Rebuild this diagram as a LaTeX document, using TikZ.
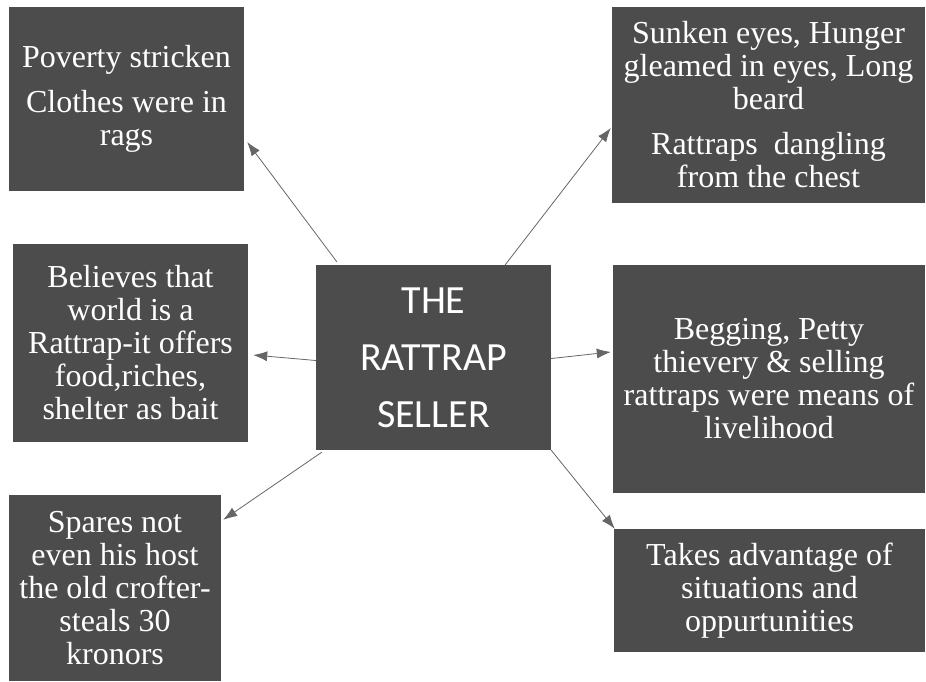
\documentclass[tikz,border=0pt]{standalone}
\usepackage{fontspec}
\setmainfont{Liberation Serif}
\newfontfamily\calibri{Carlito}
\usetikzlibrary{arrows.meta}
\begin{document}
\begin{tikzpicture}[x=1pt, y=-1pt,
    box/.style={rectangle, fill=black!70, text=white, inner sep=0pt, align=center, font=\fontsize{32}{33}\selectfont},
    hub/.style={box, font=\calibri\fontsize{40}{57}\selectfont},
    arrow/.style={-{Latex[length=14pt,width=10pt]}, draw=black!60, line width=0.8pt}
]
\useasboundingbox (0,0) rectangle (926,681);
\node[box, minimum width=235, minimum height=184] (pov)    at (126.5,99)  {Poverty stricken\\[12pt]Clothes were in\\rags};
\node[box, minimum width=313, minimum height=196] (look)   at (768.5,105) {Sunken eyes, Hunger\\gleamed in eyes, Long\\beard\\[12pt]Rattraps\ \ dangling\\from the chest};
\node[box, minimum width=235, minimum height=198] (belief) at (130.5,343) {Believes that\\world is a\\Rattrap-it offers\\food,riches,\\shelter as bait};
\node[hub, minimum width=235, minimum height=185] (seller) at (433.5,357.5) {THE\\RATTRAP\\SELLER};
\node[box, minimum width=312, minimum height=228] (means)  at (769,379)   {Begging, Petty\\thievery \& selling\\rattraps were means of\\livelihood};
\node[box, minimum width=212, minimum height=186] (steal)  at (115,588)   {Spares not\\even his host\\the old crofter-\\steals 30\\kronors};
\node[box, minimum width=311, minimum height=123] (chance) at (769.5,590.5) {Takes advantage of\\situations and\\oppurtunities};
\draw[arrow] ([xshift=21pt,yshift=3pt]seller.north west)   -- ([xshift=3pt,yshift=-43pt]pov.east);
\draw[arrow] ([xshift=-46pt]seller.north east)             -- ([xshift=-1pt,yshift=-23pt]look.west);
\draw[arrow] ([yshift=-3pt]seller.west)                    -- ([xshift=5pt,yshift=-12pt]belief.east);
\draw[arrow] ([xshift=6pt,yshift=-2pt]seller.south west)   -- ([xshift=2pt,yshift=-25pt]steal.north east);
\draw[arrow] ([yshift=-1pt]seller.east)                    -- ([xshift=-2pt,yshift=27pt]means.west);
\draw[arrow] (seller.south east)                           -- ([xshift=1pt]chance.north west);
\end{tikzpicture}
\end{document}
